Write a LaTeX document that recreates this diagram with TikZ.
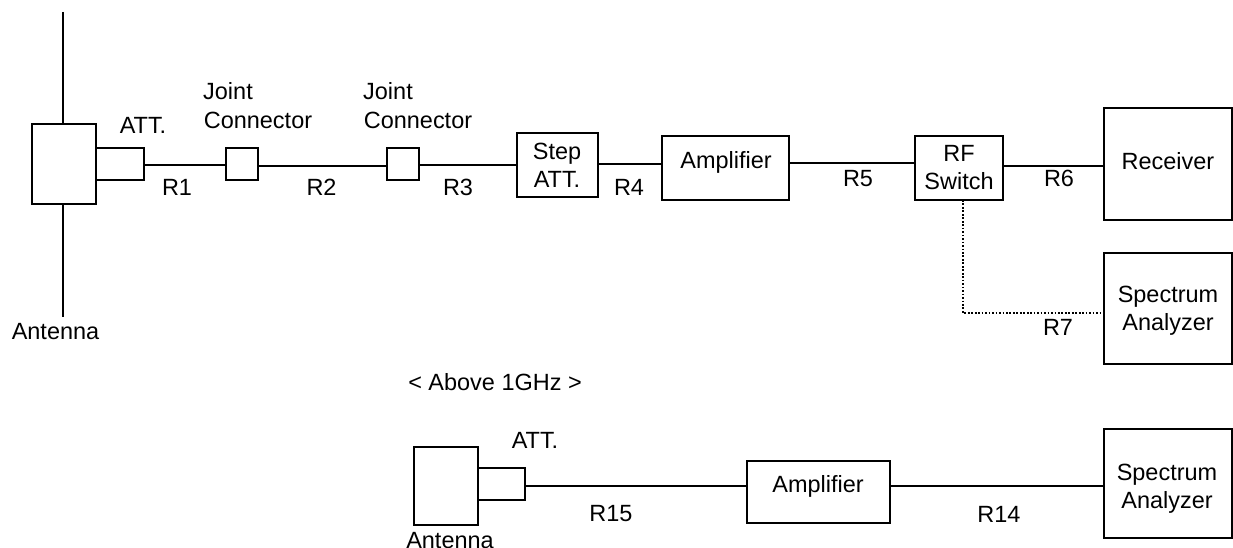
\documentclass[tikz,border=0pt]{standalone}
\usepackage{fontspec}
\setmainfont{Liberation Sans}
\begin{document}
\begin{tikzpicture}[x=0.75pt,y=-0.75pt,
  box/.style={draw,line width=1.25pt,inner sep=0pt,outer sep=0pt,anchor=north west},
  lab/.style={inner sep=0pt,align=center,font=\fontsize{17.6}{21}\selectfont},
  wire/.style={line width=1.2pt}]
\useasboundingbox (0,0) rectangle (1233,548);
\node[box,minimum width=48pt,minimum height=60pt] (ant) at (32,124) {};
\node[box,minimum width=36pt,minimum height=24pt] (att) at (96,148) {};
\node[box,minimum width=24pt,minimum height=24pt] (j1) at (226,148) {};
\node[box,minimum width=24pt,minimum height=24pt] (j2) at (387,148) {};
\node[box,minimum width=60.75pt,minimum height=48pt] (step) at (517,133) {};
\node[box,minimum width=95.25pt,minimum height=48pt] (amp) at (662,136) {};
\node[box,minimum width=66pt,minimum height=48pt] (rf) at (915,136) {};
\node[box,minimum width=96pt,minimum height=84pt] (rx) at (1104,108) {};
\node[box,minimum width=96pt,minimum height=83.25pt] (sa) at (1104,253) {};
\node[box,minimum width=48pt,minimum height=58.5pt] (ant2) at (414,447) {};
\node[box,minimum width=35.25pt,minimum height=24pt] (att2) at (478,468) {};
\node[box,minimum width=107.25pt,minimum height=46.5pt] (amp2) at (747,461) {};
\node[box,minimum width=96pt,minimum height=81.75pt] (sa2) at (1104,429) {};
\coordinate (t) at (63,12); \coordinate (b) at (63,317);
\coordinate (k) at (963,313);
\coordinate (ya) at (0,165); \coordinate (yb) at (0,163); \coordinate (yc) at (0,486); \coordinate (yd) at (0,166); \coordinate (ye) at (0,164);
\draw[wire] (t) -- (ant.north -| t);
\draw[wire] (ant.south -| b) -- (b);
\draw[wire] (att.east |- ya) -- (j1.west |- ya);
\draw[wire] (j1.east |- yd) -- (j2.west |- yd);
\draw[wire] (j2.east |- ya) -- (step.west |- ya);
\draw[wire] (step.east |- ye) -- (amp.west |- ye);
\draw[wire] (amp.east |- yb) -- (rf.west |- yb);
\draw[wire] (rf.east |- yd) -- (rx.west |- yd);
\draw[line width=0.9pt,dash pattern=on 1.3pt off 1.3pt] (rf.south -| k) -- (k) -- (sa.west |- k);
\draw[wire] (att2.east |- yc) -- (amp2.west |- yc);
\draw[wire] (amp2.east |- yc) -- (sa2.west |- yc);
\node[lab] (tstep) at (557,165) {Step\\ATT.};
\node[lab] (tamp) at (726,162) {Amplifier};
\node[lab] (trf) at (959,167.5) {RF\\Switch};
\node[lab] (trx) at (1168,161) {Receiver};
\node[lab] (tsa) at (1168,311) {Spectrum\\Analyzer};
\node[lab] (tamp2) at (818,486) {Amplifier};
\node[lab] (tsa2) at (1167,489) {Spectrum\\Analyzer};
\node[lab] (l1) at (55.5,332) {Antenna};
\node[lab] (l2) at (143,125) {ATT.};
\node[lab] (l3) at (228,91) {Joint};
\node[lab] (l4) at (258,120) {Connector};
\node[lab] (l5) at (388,91) {Joint};
\node[lab] (l6) at (418,120) {Connector};
\node[lab] (r1) at (177,187) {R1};
\node[lab] (r2) at (321.5,187) {R2};
\node[lab] (r3) at (458,187) {R3};
\node[lab] (r4) at (629,187) {R4};
\node[lab] (r5) at (858,179) {R5};
\node[lab] (r6) at (1059,178) {R6};
\node[lab] (r7) at (1058,327) {R7};
\node[lab] (ab) at (495,382) {< Above 1GHz >};
\node[lab] (a2) at (535,440) {ATT.};
\node[lab] (r15) at (611,514) {R15};
\node[lab] (r14) at (999,514) {R14};
\node[lab] (an2) at (450,541) {Antenna};
\end{tikzpicture}
\end{document}
